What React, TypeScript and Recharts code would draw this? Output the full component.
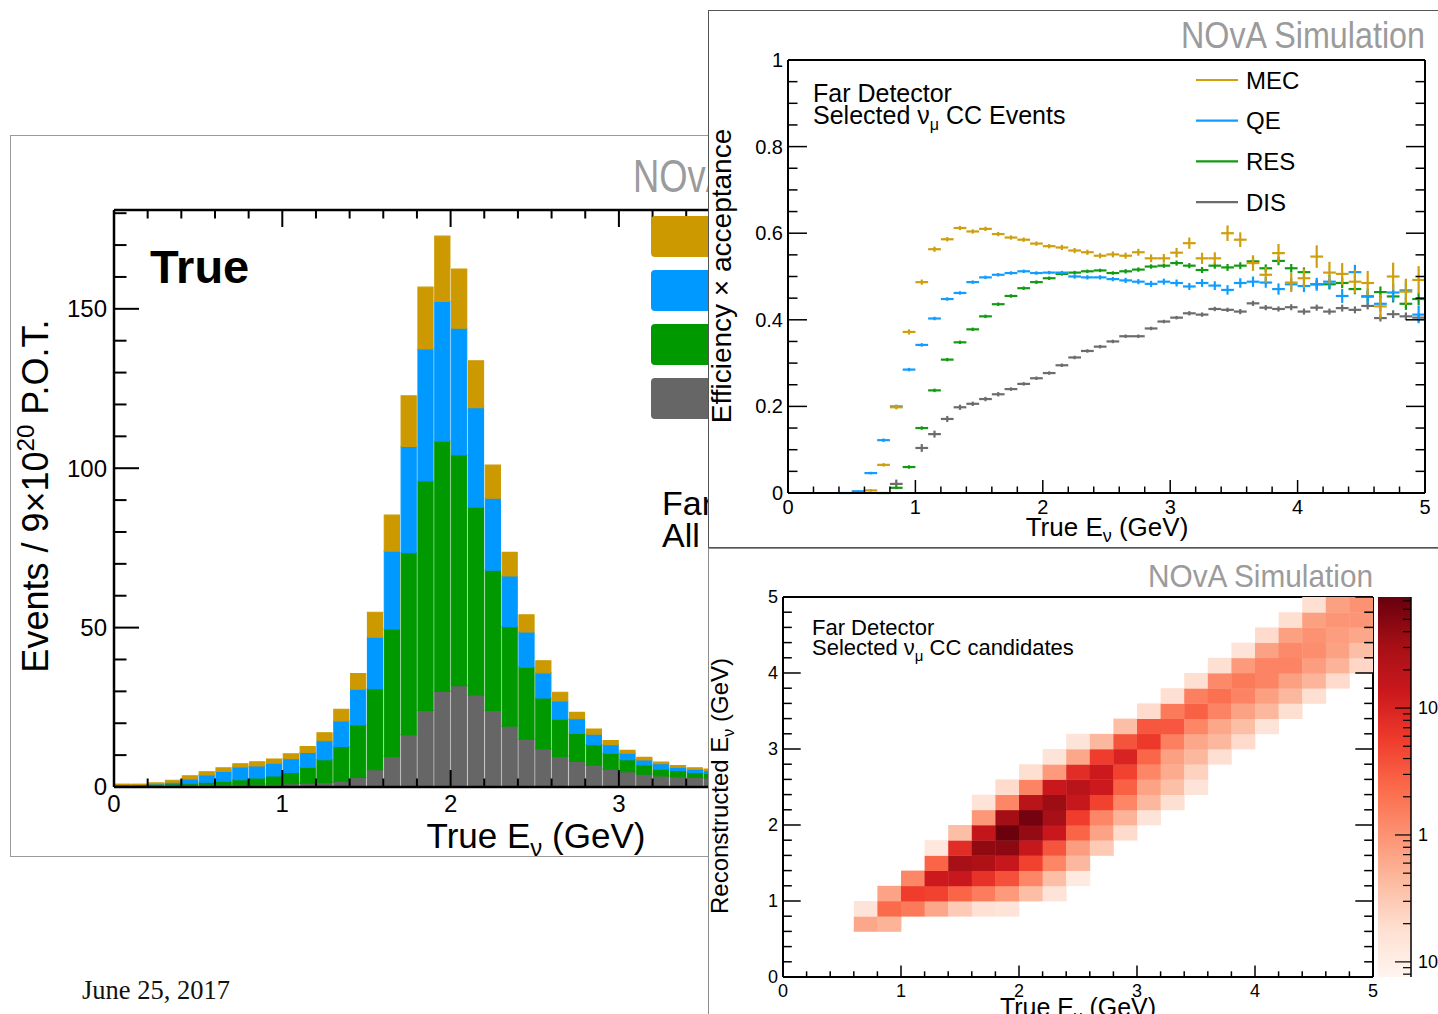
import type { ReactNode } from "react";
import {
  BarChart, Bar, ScatterChart, Scatter, ErrorBar, ComposedChart, XAxis, YAxis,
} from "recharts";

const SANS = "'Liberation Sans', Arial, Helvetica, sans-serif";

// energy axes (GeV), ROOT style: major every 1, minor every 0.2
const E_TICKS = [0, 0.2, 0.4, 0.6, 0.8, 1, 1.2, 1.4, 1.6, 1.8, 2, 2.2, 2.4, 2.6, 2.8, 3, 3.2, 3.4, 3.6, 3.8, 4, 4.2, 4.4, 4.6, 4.8, 5];
const E_MAJOR = [0, 1, 2, 3, 4, 5];

// ---- left: true energy spectrum, stacked by interaction mode (0.1 GeV bins) ----
const HIST_E = [0.05, 0.15, 0.25, 0.35, 0.45, 0.55, 0.65, 0.75, 0.85, 0.95, 1.05, 1.15, 1.25, 1.35, 1.45, 1.55, 1.65, 1.75, 1.85, 1.95, 2.05, 2.15, 2.25, 2.35, 2.45, 2.55, 2.65, 2.75, 2.85, 2.95, 3.05, 3.15, 3.25, 3.35, 3.45, 3.55];
const HIST_DIS = [0.8, 0.8, 0.8, 0.9, 0.9, 0.9, 0.9, 0.9, 0.9, 0.9, 1.0, 1.2, 1.4, 1.8, 3.0, 5.4, 9.6, 16.4, 24.0, 30.0, 31.8, 28.9, 24.0, 19.1, 15.0, 12.0, 9.6, 8.0, 6.8, 5.6, 4.8, 4.0, 3.5, 3.2, 3.0, 2.8];
const HIST_RES = [0, 0, 0.1, 0.1, 0.3, 0.6, 0.9, 1.4, 1.9, 2.6, 3.6, 5.0, 7.2, 10.9, 16.5, 25.4, 40.0, 57.1, 72.0, 78.5, 72.4, 58.9, 44.0, 31.2, 22.6, 15.9, 11.7, 8.8, 6.5, 5.0, 3.8, 2.9, 2.1, 2.0, 1.6, 1.5];
const HIST_QE = [0, 0, 0.1, 0.5, 1.3, 2.3, 3.1, 4.0, 3.8, 4.0, 4.3, 4.6, 5.9, 8.0, 11.2, 16.2, 24.4, 33.3, 41.4, 43.8, 39.7, 31.2, 22.6, 15.9, 11.0, 7.9, 5.7, 4.6, 3.3, 2.7, 2.0, 1.6, 1.7, 1.0, 1.0, 0.9];
const HIST_MEC = [0.1, 0.1, 0.3, 0.6, 1.0, 1.0, 1.1, 1.0, 1.3, 1.3, 1.5, 1.9, 2.5, 3.7, 4.9, 7.8, 11.3, 15.9, 19.4, 20.5, 18.6, 14.7, 10.4, 7.4, 5.4, 3.8, 2.7, 2.0, 1.6, 1.3, 0.9, 0.8, 0.5, 0.5, 0.4, 0.4];
const HIST_Y_TICKS = [0, 10, 20, 30, 40, 50, 60, 70, 80, 90, 100, 110, 120, 130, 140, 150, 160, 170, 180];
const HIST_Y_MAJOR = [0, 50, 100, 150];
const HIST_BIN = 0.1;

// ---- top right: efficiency x acceptance per mode (0.1 GeV bins) ----
const EFF_E = [0.05, 0.15, 0.25, 0.35, 0.45, 0.55, 0.65, 0.75, 0.85, 0.95, 1.05, 1.15, 1.25, 1.35, 1.45, 1.55, 1.65, 1.75, 1.85, 1.95, 2.05, 2.15, 2.25, 2.35, 2.45, 2.55, 2.65, 2.75, 2.85, 2.95, 3.05, 3.15, 3.25, 3.35, 3.45, 3.55, 3.65, 3.75, 3.85, 3.95, 4.05, 4.15, 4.25, 4.35, 4.45, 4.55, 4.65, 4.75, 4.85, 4.95];
const MEC_EFF = [
  null, null, null, null, null, null, 0.006, 0.065, 0.198, 0.372,
  0.487, 0.563, 0.586, 0.612, 0.604, 0.61, 0.598, 0.59, 0.585, 0.576,
  0.57, 0.567, 0.56, 0.556, 0.548, 0.551, 0.548, 0.556, 0.542, 0.542,
  0.555, 0.577, 0.542, 0.542, 0.6, 0.585, 0.531, 0.504, 0.554, 0.486,
  0.496, 0.546, 0.509, 0.506, 0.488, 0.485, 0.431, 0.5, 0.465, 0.492,
];
const MEC_ERR = [
  0, 0, 0, 0, 0, 0, 0.003, 0.004, 0.005, 0.006,
  0.006, 0.006, 0.005, 0.005, 0.005, 0.005, 0.005, 0.005, 0.005, 0.005,
  0.005, 0.006, 0.006, 0.006, 0.006, 0.007, 0.007, 0.008, 0.009, 0.01,
  0.011, 0.013, 0.013, 0.014, 0.018, 0.017, 0.018, 0.018, 0.021, 0.022,
  0.022, 0.026, 0.025, 0.025, 0.027, 0.028, 0.028, 0.032, 0.03, 0.032,
];
const QE_EFF = [
  null, null, null, null, 0.0, 0.004, 0.046, 0.122, 0.2, 0.285,
  0.342, 0.403, 0.448, 0.462, 0.487, 0.498, 0.504, 0.508, 0.512, 0.508,
  0.509, 0.509, 0.5, 0.498, 0.498, 0.494, 0.491, 0.488, 0.483, 0.488,
  0.485, 0.477, 0.485, 0.479, 0.469, 0.485, 0.488, 0.486, 0.471, 0.482,
  0.478, 0.482, 0.488, 0.455, 0.51, 0.454, 0.437, 0.463, 0.468, 0.412,
];
const QE_ERR = [
  0, 0, 0, 0, 0.001, 0.002, 0.003, 0.004, 0.004, 0.004,
  0.004, 0.004, 0.004, 0.004, 0.004, 0.004, 0.004, 0.004, 0.004, 0.004,
  0.004, 0.004, 0.005, 0.005, 0.005, 0.005, 0.006, 0.006, 0.007, 0.007,
  0.008, 0.008, 0.009, 0.01, 0.011, 0.011, 0.012, 0.012, 0.013, 0.014,
  0.014, 0.015, 0.016, 0.016, 0.017, 0.018, 0.018, 0.019, 0.02, 0.02,
];
const RES_EFF = [
  null, null, null, null, null, null, null, 0.0, 0.012, 0.06,
  0.15, 0.237, 0.308, 0.348, 0.378, 0.408, 0.436, 0.455, 0.473, 0.487,
  0.496, 0.506, 0.509, 0.512, 0.514, 0.508, 0.512, 0.516, 0.523, 0.525,
  0.531, 0.525, 0.515, 0.525, 0.521, 0.525, 0.535, 0.519, 0.536, 0.519,
  0.51, 0.482, 0.482, 0.485, 0.471, 0.454, 0.464, 0.454, 0.437, 0.448,
];
const RES_ERR = [
  0, 0, 0, 0, 0, 0, 0, 0.001, 0.003, 0.004,
  0.004, 0.004, 0.004, 0.004, 0.004, 0.004, 0.004, 0.004, 0.004, 0.004,
  0.004, 0.004, 0.004, 0.004, 0.004, 0.004, 0.005, 0.005, 0.005, 0.005,
  0.006, 0.006, 0.007, 0.007, 0.008, 0.008, 0.009, 0.009, 0.01, 0.01,
  0.011, 0.011, 0.012, 0.012, 0.012, 0.013, 0.013, 0.014, 0.014, 0.015,
];
const DIS_EFF = [
  null, null, null, null, null, null, null, null, 0.021, null,
  0.104, 0.136, 0.171, 0.198, 0.206, 0.217, 0.228, 0.24, 0.252, 0.265,
  0.277, 0.295, 0.313, 0.328, 0.338, 0.35, 0.362, 0.362, 0.38, 0.396,
  0.405, 0.415, 0.412, 0.425, 0.423, 0.419, 0.438, 0.428, 0.425, 0.429,
  0.419, 0.428, 0.419, 0.427, 0.423, 0.432, 0.404, 0.413, 0.408, 0.405,
];
const DIS_ERR = [
  0, 0, 0, 0, 0, 0, 0, 0, 0.01, 0,
  0.009, 0.008, 0.007, 0.006, 0.005, 0.005, 0.005, 0.004, 0.004, 0.004,
  0.004, 0.004, 0.004, 0.004, 0.004, 0.004, 0.004, 0.004, 0.004, 0.004,
  0.004, 0.005, 0.005, 0.005, 0.005, 0.006, 0.006, 0.006, 0.006, 0.007,
  0.007, 0.007, 0.007, 0.008, 0.008, 0.008, 0.008, 0.009, 0.009, 0.009,
];
const EFF_Y_TICKS = [0, 0.05, 0.1, 0.15, 0.2, 0.25, 0.3, 0.35, 0.4, 0.45, 0.5, 0.55, 0.6, 0.65, 0.7, 0.75, 0.8, 0.85, 0.9, 0.95, 1];
const EFF_Y_MAJOR = [0, 0.2, 0.4, 0.6, 0.8, 1];
const EFF_HALF_BIN = 0.05;

// ---- bottom right: reco vs true energy (0.2 GeV bins), [reco bin, first true bin, contents] ----
const HEAT_ROWS: [number, number, number[]][] = [
  [3, 3, [0.65, 0.5]],
  [4, 3, [0.15, 2.4, 1.7, 0.65, 0.3, 0.17, 0.15]],
  [5, 4, [0.7, 5.5, 5, 2.6, 1.6, 0.85, 0.4, 0.15]],
  [6, 5, [1.3, 13, 14, 7, 3.8, 1.3, 0.4, 0.12]],
  [7, 6, [2.6, 30, 25, 15, 5, 1.3, 0.45]],
  [8, 6, [0.13, 8, 42, 45, 15, 3.5, 0.8, 0.3]],
  [9, 7, [0.4, 16, 72, 40, 14, 2.6, 0.7, 0.2]],
  [10, 8, [0.9, 32, 62, 30, 5.5, 1.3, 0.5, 0.15]],
  [11, 8, [0.15, 1.3, 20, 36, 15, 5, 1.3, 0.45, 0.18]],
  [12, 9, [0.2, 1.4, 14, 20, 13, 2.8, 0.7, 0.38, 0.15]],
  [13, 10, [0.18, 0.85, 8, 13, 5, 1.3, 0.6, 0.25]],
  [14, 11, [0.15, 0.65, 5.5, 10, 2.5, 0.75, 0.45, 0.18]],
  [15, 12, [0.15, 0.45, 3.6, 6, 1.5, 0.65, 0.45, 0.2]],
  [16, 14, [0.4, 3.4, 3.4, 1.3, 0.65, 0.4, 0.15]],
  [17, 15, [0.2, 1.7, 2.8, 1.4, 0.72, 0.45, 0.18]],
  [18, 16, [0.18, 1.5, 2.1, 1.4, 0.75, 0.45, 0.18]],
  [19, 17, [0.18, 1.2, 1.7, 1.4, 0.75, 0.48, 0.2]],
  [20, 18, [0.18, 0.85, 1.4, 1.4, 0.8, 0.5, 0.22]],
  [21, 19, [0.15, 0.72, 1.2, 1.1, 0.72, 0.4]],
  [22, 20, [0.2, 0.75, 1.0, 0.8, 0.65]],
  [23, 21, [0.18, 0.75, 0.95, 0.95]],
  [24, 22, [0.18, 0.75, 1.0]],
];
const HEAT_BIN = 0.2;
const Z_MIN = 0.076;
const Z_MAX = 75;
const Z_TICKS = [0.08, 0.09, 0.1, 0.2, 0.3, 0.4, 0.5, 0.6, 0.7, 0.8, 0.9, 1, 2, 3, 4, 5, 6, 7, 8, 9, 10, 20, 30, 40, 50, 60, 70];
const Z_MAJOR = [0.1, 1, 10];
const REDS = ["#fff5f0", "#fee0d2", "#fcbba1", "#fc9272", "#fb6a4a", "#ef3b2c", "#cb181d", "#a50f15", "#67000d"];

const C = {
  mec: "#cc9900", qe: "#0099ff", res: "#009900", dis: "#666666",
  mecL: "#d09f0d", qeL: "#109dff", resL: "#139a13", disL: "#6c6c6c",
  nova: "#9b9b9b",
};

function heatColor(v: number) {
  const lo = Math.log10(Z_MIN);
  const hi = Math.log10(Z_MAX);
  const t = Math.min(1, Math.max(0, (Math.log10(v) - lo) / (hi - lo)));
  const p = t * (REDS.length - 1);
  const i = Math.min(REDS.length - 2, Math.floor(p));
  const f = p - i;
  const a = [1, 3, 5].map((k) => parseInt(REDS[i].slice(k, k + 2), 16));
  const b = [1, 3, 5].map((k) => parseInt(REDS[i + 1].slice(k, k + 2), 16));
  return `rgb(${a.map((x, k) => Math.round(x + (b[k] - x) * f)).join(",")})`;
}

type Side = "bottom" | "top" | "left" | "right";
type TickCfg = {
  side: Side; major: number[]; big: number; small: number;
  font?: number; gap?: number; sw?: number; mirror?: number; fmt?: (v: number) => ReactNode;
};

const isIn = (list: number[], v: number) => list.some((m) => Math.abs(m - v) < 1e-9);

// ticks drawn inside the frame, like ROOT does; "mirror" repeats them on the opposite side
function rootTick(cfg: TickCfg) {
  return (p: any) => {
    const { x, y } = p;
    const v = p.payload.value as number;
    const major = isIn(cfg.major, v);
    const len = major ? cfg.big : cfg.small;
    const d = { bottom: [0, -len], top: [0, len], left: [len, 0], right: [-len, 0] }[cfg.side];
    const gap = cfg.gap ?? 0;
    const sw = cfg.sw ?? 1.5;
    let label: ReactNode = null;
    if (major && cfg.fmt) {
      const txt = cfg.fmt(v);
      const common = { fontSize: cfg.font, fill: "#000", fontFamily: SANS };
      if (cfg.side === "bottom") label = <text x={x} y={y + gap} textAnchor="middle" {...common}>{txt}</text>;
      if (cfg.side === "left") label = <text x={x - gap} y={y} dy="0.35em" textAnchor="end" {...common}>{txt}</text>;
      if (cfg.side === "right") label = <text x={x + gap} y={y} dy="0.35em" textAnchor="start" {...common}>{txt}</text>;
    }
    let twin: ReactNode = null;
    if (cfg.mirror) {
      if (cfg.side === "bottom") twin = <line x1={x} y1={y - cfg.mirror} x2={x} y2={y - cfg.mirror + len} stroke="#000" strokeWidth={sw} />;
      if (cfg.side === "left") twin = <line x1={x + cfg.mirror} y1={y} x2={x + cfg.mirror - len} y2={y} stroke="#000" strokeWidth={sw} />;
    }
    return (
      <g>
        <line x1={x} y1={y} x2={x + d[0]} y2={y + d[1]} stroke="#000" strokeWidth={sw} />
        {twin}
        {label}
      </g>
    );
  };
}

const axisBase = { tickLine: false, tickSize: 0, tickMargin: 0, interval: 0 as const, allowDataOverflow: true };

function SpectrumPanel() {
  const rows = HIST_E.map((e, i) => ({ e, DIS: HIST_DIS[i], RES: HIST_RES[i], QE: HIST_QE[i], MEC: HIST_MEC[i] }));
  const line = { stroke: "#000", strokeWidth: 2.5 };
  const plotW = 841.5;
  const plotH = 577;
  const barPx = (plotW / 5) * HIST_BIN;
  const xt = { major: E_MAJOR, big: 17, small: 8.5, sw: 2, mirror: plotH };
  const yt = { major: HIST_Y_MAJOR, big: 25, small: 12.5, sw: 2, mirror: plotW };
  const stack = [
    { key: "DIS", fill: C.dis },
    { key: "RES", fill: C.res },
    { key: "QE", fill: C.qe },
    { key: "MEC", fill: C.mec },
  ];
  return (
    <div style={{ position: "absolute", left: 10, top: 135, width: 1000, height: 722, boxSizing: "border-box", border: "1px solid #9a9a9a", background: "#fff" }}>
      <div style={{ position: "absolute", left: -1, top: -1 }}>
        <BarChart width={1000} height={722} data={rows} margin={{ top: 65, right: 44.5, bottom: 60, left: 94 }} barCategoryGap={0} barGap={0}>
          <XAxis dataKey="e" type="number" domain={[0, 5]} ticks={E_TICKS} height={10} axisLine={line}
            tick={rootTick({ side: "bottom", ...xt, font: 24, gap: 25, fmt: String })} {...axisBase} />
          <XAxis xAxisId="top" orientation="top" type="number" domain={[0, 5]} height={10} axisLine={line} tick={false} {...axisBase} />
          <YAxis type="number" domain={[0, 181]} ticks={HIST_Y_TICKS} width={10} axisLine={line}
            tick={rootTick({ side: "left", ...yt, font: 24, gap: 7, fmt: String })} {...axisBase} />
          <YAxis yAxisId="right" orientation="right" type="number" domain={[0, 181]} width={10} axisLine={line} tick={false} {...axisBase} />
          {stack.map((s) => (
            <Bar key={s.key} dataKey={s.key} stackId="h" fill={s.fill} stroke={s.fill} strokeWidth={1.1} barSize={barPx} isAnimationActive={false} />
          ))}
        </BarChart>
      </div>
      <svg width={1000} height={722} style={{ position: "absolute", left: -1, top: -1 }} fontFamily={SANS}>
        <text x={623} y={57} fontSize={46} fill={C.nova} textLength={275} lengthAdjust="spacingAndGlyphs">NOvA Simulation</text>
        <text x={140} y={148} fontSize={47} fontWeight="bold">True</text>
        <text transform="translate(38,361) rotate(-90)" textAnchor="middle" fontSize={36}>
          Events / 9×10<tspan dy={-14} fontSize={24}>20</tspan><tspan dy={14}> P.O.T.</tspan>
        </text>
        <text x={526} y={713} textAnchor="middle" fontSize={35}>
          True E<tspan dy={8} fontSize={24}>ν</tspan><tspan dy={-8}> (GeV)</tspan>
        </text>
        {stack.slice().reverse().map((s, i) => (
          <g key={s.key}>
            <rect x={641} y={81 + i * 54} width={160} height={41} rx={4} fill={s.fill} />
            <text x={815} y={114 + i * 54} fontSize={34}>{s.key}</text>
          </g>
        ))}
        <text x={652} y={380} fontSize={34}>Far Detector</text>
        <text x={652} y={412} fontSize={34}>
          All ν<tspan dy={7} fontSize={23}>μ</tspan><tspan dy={-7}> CC Events</tspan>
        </text>
      </svg>
    </div>
  );
}

function effRows(vals: (number | null)[], errs: number[]) {
  return EFF_E.flatMap((e, i) => (vals[i] == null ? [] : [{ e, v: vals[i] as number, ey: errs[i], ex: EFF_HALF_BIN }]));
}

function EfficiencyPanel() {
  const line = { stroke: "#000", strokeWidth: 2 };
  const xt = { major: E_MAJOR, big: 13, small: 6.5 };
  const yt = { major: EFF_Y_MAJOR, big: 19, small: 9.5 };
  const series = [
    { name: "DIS", color: C.disL, rows: effRows(DIS_EFF, DIS_ERR) },
    { name: "RES", color: C.resL, rows: effRows(RES_EFF, RES_ERR) },
    { name: "QE", color: C.qeL, rows: effRows(QE_EFF, QE_ERR) },
    { name: "MEC", color: C.mecL, rows: effRows(MEC_EFF, MEC_ERR) },
  ];
  return (
    <div style={{ position: "absolute", left: 708, top: 10, width: 740, height: 538, boxSizing: "border-box", border: "1px solid #555", background: "#fff" }}>
      <div style={{ position: "absolute", left: -1, top: -1 }}>
        <ScatterChart width={730} height={538} margin={{ top: 40, right: 3, bottom: 45, left: 70 }}>
          <XAxis dataKey="e" type="number" domain={[0, 5]} ticks={E_TICKS} height={10} axisLine={line}
            tick={rootTick({ side: "bottom", ...xt, font: 20, gap: 21, fmt: String })} {...axisBase} />
          <XAxis xAxisId="top" orientation="top" type="number" domain={[0, 5]} ticks={E_TICKS} height={10} axisLine={line}
            tick={rootTick({ side: "top", ...xt })} {...axisBase} />
          <YAxis dataKey="v" type="number" domain={[0, 1]} ticks={EFF_Y_TICKS} width={10} axisLine={line}
            tick={rootTick({ side: "left", ...yt, font: 20, gap: 5, fmt: String })} {...axisBase} />
          <YAxis yAxisId="right" orientation="right" type="number" domain={[0, 1]} ticks={EFF_Y_TICKS} width={10} axisLine={line}
            tick={rootTick({ side: "right", ...yt })} {...axisBase} />
          {series.map((s) => (
            <Scatter key={s.name} name={s.name} data={s.rows} dataKey="v" shape={() => <g />} isAnimationActive={false}>
              <ErrorBar dataKey="ex" direction="x" width={0} stroke={s.color} strokeWidth={2.2} isAnimationActive={false} />
              <ErrorBar dataKey="ey" direction="y" width={0} stroke={s.color} strokeWidth={2.2} isAnimationActive={false} />
            </Scatter>
          ))}
        </ScatterChart>
      </div>
      <svg width={740} height={538} style={{ position: "absolute", left: -1, top: -1 }} fontFamily={SANS}>
        <text x={473} y={38} fontSize={37} fill={C.nova} textLength={244} lengthAdjust="spacingAndGlyphs">NOvA Simulation</text>
        <text x={105} y={92} fontSize={25}>Far Detector</text>
        <text x={105} y={114} fontSize={25}>
          Selected ν<tspan dy={6} fontSize={16}>μ</tspan><tspan dy={-6}> CC Events</tspan>
        </text>
        {series.slice().reverse().map((s, i) => (
          <g key={s.name}>
            <line x1={488} x2={530} y1={70 + i * 40.7} y2={70 + i * 40.7} stroke={s.color} strokeWidth={2.2} />
            <text x={538} y={78.5 + i * 40.7} fontSize={24}>{s.name}</text>
          </g>
        ))}
        <text transform="translate(23,266) rotate(-90)" textAnchor="middle" fontSize={28}>Efficiency × acceptance</text>
        <text x={399} y={526} textAnchor="middle" fontSize={26}>
          True E<tspan dy={6} fontSize={18}>ν</tspan><tspan dy={-6}> (GeV)</tspan>
        </text>
      </svg>
    </div>
  );
}

function MigrationPanel() {
  const line = { stroke: "#000", strokeWidth: 2 };
  const xt = { major: E_MAJOR, big: 11.4, small: 5.7 };
  const yt = { major: E_MAJOR, big: 17.7, small: 8.8 };
  const plotW = 590;
  const plotH = 380;
  const cellW = (plotW / 5) * HEAT_BIN;
  const cellH = (plotH / 5) * HEAT_BIN;
  const cells = HEAT_ROWS.flatMap(([r, c0, vals]) =>
    vals.map((v, k) => ({ t: (c0 + k + 0.5) * HEAT_BIN, r: (r + 0.5) * HEAT_BIN, v })),
  );
  const cellShape = (p: any) => {
    const col = heatColor(p.payload.v);
    return <rect x={p.cx - cellW / 2} y={p.cy - cellH / 2} width={cellW + 0.4} height={cellH + 0.4} fill={col} />;
  };
  return (
    <div style={{ position: "absolute", left: 708, top: 548, width: 740, height: 480, boxSizing: "border-box", border: "1px solid #8c8c8c", background: "#fff" }}>
      <div style={{ position: "absolute", left: 669, top: 48, width: 33, height: 380, background: `linear-gradient(to top, ${REDS.join(", ")})` }} />
      <div style={{ position: "absolute", left: -1, top: -1 }}>
        <ScatterChart width={730} height={466} margin={{ top: 39, right: 55, bottom: 27, left: 65 }}>
          <XAxis dataKey="t" type="number" domain={[0, 5]} ticks={E_TICKS} height={10} axisLine={line}
            tick={rootTick({ side: "bottom", ...xt, font: 18, gap: 19.5, fmt: String })} {...axisBase} />
          <XAxis xAxisId="top" orientation="top" type="number" domain={[0, 5]} ticks={E_TICKS} height={10} axisLine={line}
            tick={rootTick({ side: "top", ...xt })} {...axisBase} />
          <YAxis dataKey="r" type="number" domain={[0, 5]} ticks={E_TICKS} width={10} axisLine={line}
            tick={rootTick({ side: "left", ...yt, font: 18, gap: 5, fmt: String })} {...axisBase} />
          <YAxis yAxisId="right" orientation="right" type="number" domain={[0, 5]} ticks={E_TICKS} width={10} axisLine={line}
            tick={rootTick({ side: "right", ...yt })} {...axisBase} />
          <Scatter data={cells} dataKey="r" shape={cellShape} isAnimationActive={false} />
        </ScatterChart>
      </div>
      <svg width={740} height={480} style={{ position: "absolute", left: -1, top: -1 }} fontFamily={SANS}>
        <text x={440} y={39} fontSize={32} fill={C.nova} textLength={225} lengthAdjust="spacingAndGlyphs">NOvA Simulation</text>
        <text x={104} y={87} fontSize={22}>Far Detector</text>
        <text x={104} y={107} fontSize={22}>
          Selected ν<tspan dy={6} fontSize={15}>μ</tspan><tspan dy={-6}> CC candidates</tspan>
        </text>
        <text transform="translate(20,238) rotate(-90)" textAnchor="middle" fontSize={24}>
          Reconstructed E<tspan dy={6} fontSize={16}>ν</tspan><tspan dy={-6}> (GeV)</tspan>
        </text>
        <text x={370} y={468} textAnchor="middle" fontSize={25}>
          True E<tspan dy={6} fontSize={17}>ν</tspan><tspan dy={-6}> (GeV)</tspan>
        </text>
      </svg>
      <div style={{ position: "absolute", left: 661, top: -1 }}>
        <ComposedChart width={68} height={466} margin={{ top: 49, right: 17, bottom: 37, left: 8 }}>
          <XAxis type="number" domain={[0, 1]} hide allowDataOverflow />
          <YAxis orientation="right" type="number" scale="log" domain={[Z_MIN, Z_MAX]} ticks={Z_TICKS} width={10}
            axisLine={{ stroke: "#000", strokeWidth: 1.5 }}
            tick={rootTick({
              side: "right", major: Z_MAJOR, big: 16, small: 8, sw: 1.2, font: 18, gap: 7,
              fmt: (v) => (v < 0.5 ? <>10<tspan dy={-8} fontSize={12}>-1</tspan></> : String(v)),
            })}
            {...axisBase} />
        </ComposedChart>
      </div>
    </div>
  );
}

export default function App() {
  return (
    <div style={{ position: "fixed", left: 0, top: 0, width: 1438, height: 1014, overflow: "hidden", background: "#fff", fontFamily: SANS }}>
      <SpectrumPanel />
      <svg width={400} height={54} style={{ position: "absolute", left: 0, top: 960 }}>
        <text x={82} y={39} fontSize={26.5} fontFamily="'Liberation Serif', 'Times New Roman', serif" fill="#111">June 25, 2017</text>
      </svg>
      <EfficiencyPanel />
      <MigrationPanel />
    </div>
  );
}
